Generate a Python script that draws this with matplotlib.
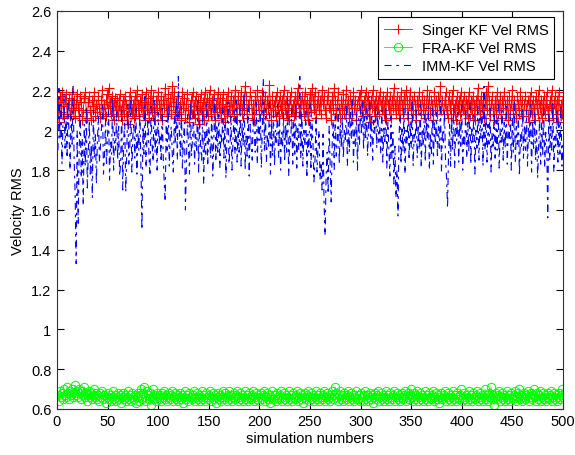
import numpy as np
import matplotlib
matplotlib.use("Agg")
import matplotlib.pyplot as plt

plt.rcParams["font.family"] = ["Liberation Sans", "DejaVu Sans"]
plt.rcParams["lines.scale_dashes"] = False

# RMS velocity error for each of the 500 Monte Carlo runs
singer_kf = [
    2.14, 2.04, 2.17, 2.09, 2.19, 2.12, 2.06, 2.15, 2.18, 2.08, 2.13, 2.16, 2.07, 2.11, 2.19, 2.10, 2.15, 2.06, 2.13, 2.18,
    2.11, 2.07, 2.17, 2.14, 2.05, 2.10, 2.16, 2.19, 2.09, 2.06, 2.14, 2.17, 2.10, 2.05, 2.15, 2.12, 2.19, 2.07, 2.13, 2.09,
    2.17, 2.11, 2.06, 2.15, 2.20, 2.08, 2.13, 2.07, 2.18, 2.11, 2.21, 2.14, 2.08, 2.17, 2.12, 2.05, 2.16, 2.10, 2.15, 2.07,
    2.12, 2.18, 2.10, 2.05, 2.15, 2.08, 2.17, 2.13, 2.07, 2.03, 2.11, 2.19, 2.15, 2.08, 2.13, 2.06, 2.17, 2.10, 2.20, 2.13,
    2.07, 2.15, 2.11, 2.18, 2.08, 2.14, 2.05, 2.19, 2.10, 2.16, 2.06, 2.13, 2.20, 2.09, 2.17, 2.11, 2.05, 2.15, 2.10, 2.19,
    2.13, 2.08, 2.17, 2.05, 2.15, 2.11, 2.21, 2.13, 2.07, 2.18, 2.10, 2.16, 2.08, 2.22, 2.12, 2.19, 2.06, 2.14, 2.09, 2.17,
    2.08, 2.13, 2.05, 2.19, 2.11, 2.16, 2.06, 2.13, 2.18, 2.10, 2.04, 2.15, 2.08, 2.19, 2.12, 2.06, 2.17, 2.10, 2.15, 2.03,
    2.11, 2.18, 2.08, 2.14, 2.05, 2.19, 2.10, 2.16, 2.07, 2.13, 2.20, 2.08, 2.15, 2.11, 2.18, 2.05, 2.13, 2.09, 2.19, 2.11,
    2.16, 2.06, 2.13, 2.18, 2.10, 2.04, 2.15, 2.08, 2.19, 2.12, 2.07, 2.17, 2.10, 2.15, 2.08, 2.20, 2.13, 2.05, 2.17, 2.11,
    2.13, 2.19, 2.08, 2.15, 2.10, 2.22, 2.17, 2.06, 2.13, 2.11, 2.19, 2.15, 2.08, 2.13, 2.05, 2.17, 2.10, 2.20, 2.13, 2.08,
    2.15, 2.10, 2.19, 2.06, 2.13, 2.17, 2.08, 2.15, 2.11, 2.23, 2.13, 2.05, 2.17, 2.10, 2.15, 2.07, 2.19, 2.12, 2.08, 2.17,
    2.10, 2.15, 2.06, 2.20, 2.13, 2.08, 2.17, 2.11, 2.05, 2.15, 2.19, 2.10, 2.13, 2.07, 2.17, 2.09, 2.15, 2.21, 2.11, 2.13,
    2.07, 2.17, 2.13, 2.08, 2.19, 2.11, 2.15, 2.05, 2.13, 2.18, 2.09, 2.21, 2.15, 2.10, 2.19, 2.06, 2.13, 2.17, 2.10, 2.15,
    2.08, 2.20, 2.13, 2.17, 2.10, 2.06, 2.15, 2.19, 2.11, 2.13, 2.05, 2.17, 2.10, 2.21, 2.15, 2.08, 2.13, 2.19, 2.11, 2.06,
    2.15, 2.10, 2.18, 2.08, 2.13, 2.20, 2.11, 2.15, 2.06, 2.17, 2.13, 2.08, 2.19, 2.11, 2.15, 2.05, 2.13, 2.17, 2.10, 2.20,
    2.13, 2.07, 2.15, 2.10, 2.19, 2.08, 2.17, 2.13, 2.04, 2.15, 2.11, 2.20, 2.13, 2.07, 2.17, 2.10, 2.15, 2.08, 2.19, 2.13,
    2.10, 2.17, 2.08, 2.15, 2.05, 2.19, 2.13, 2.10, 2.17, 2.06, 2.15, 2.11, 2.21, 2.13, 2.08, 2.17, 2.10, 2.15, 2.06, 2.19,
    2.13, 2.08, 2.17, 2.11, 2.20, 2.15, 2.06, 2.13, 2.19, 2.10, 2.15, 2.08, 2.17, 2.13, 2.05, 2.15, 2.10, 2.19, 2.13, 2.08,
    2.17, 2.10, 2.15, 2.06, 2.13, 2.20, 2.11, 2.17, 2.08, 2.15, 2.13, 2.05, 2.19, 2.10, 2.15, 2.08, 2.17, 2.13, 2.22, 2.10,
    2.15, 2.08, 2.13, 2.19, 2.10, 2.06, 2.17, 2.13, 2.08, 2.15, 2.20, 2.11, 2.13, 2.05, 2.17, 2.10, 2.15, 2.08, 2.19, 2.13,
    2.10, 2.17, 2.08, 2.15, 2.13, 2.06, 2.19, 2.11, 2.15, 2.08, 2.17, 2.13, 2.05, 2.15, 2.10, 2.21, 2.13, 2.08, 2.17, 2.11,
    2.15, 2.06, 2.13, 2.19, 2.10, 2.22, 2.15, 2.08, 2.13, 2.17, 2.11, 2.05, 2.15, 2.08, 2.19, 2.13, 2.10, 2.17, 2.06, 2.15,
    2.11, 2.19, 2.13, 2.08, 2.15, 2.05, 2.17, 2.10, 2.13, 2.20, 2.08, 2.15, 2.11, 2.06, 2.17, 2.13, 2.08, 2.19, 2.10, 2.15,
    2.07, 2.13, 2.17, 2.10, 2.15, 2.04, 2.13, 2.19, 2.08, 2.15, 2.11, 2.05, 2.17, 2.13, 2.08, 2.20, 2.11, 2.15, 2.06, 2.13,
    2.17, 2.08, 2.13, 2.19, 2.10, 2.05, 2.15, 2.11, 2.20, 2.06, 2.13, 2.17, 2.08, 2.15, 2.04, 2.19, 2.10, 2.13, 2.08, 2.17,
]

fra_kf = [
    0.67, 0.64, 0.69, 0.66, 0.68, 0.65, 0.70, 0.67, 0.66, 0.71, 0.68, 0.65, 0.69, 0.67, 0.70, 0.66, 0.68, 0.72, 0.67, 0.69,
    0.66, 0.70, 0.68, 0.65, 0.69, 0.67, 0.71, 0.66, 0.68, 0.64, 0.67, 0.69, 0.66, 0.68, 0.65, 0.67, 0.70, 0.66, 0.68, 0.65,
    0.67, 0.64, 0.68, 0.66, 0.69, 0.65, 0.67, 0.63, 0.66, 0.68, 0.65, 0.67, 0.64, 0.66, 0.69, 0.65, 0.67, 0.64, 0.66, 0.68,
    0.65, 0.67, 0.63, 0.66, 0.68, 0.65, 0.67, 0.64, 0.66, 0.69, 0.65, 0.67, 0.64, 0.68, 0.66, 0.65, 0.67, 0.63, 0.66, 0.68,
    0.64, 0.67, 0.70, 0.65, 0.68, 0.71, 0.66, 0.64, 0.69, 0.67, 0.65, 0.68, 0.62, 0.66, 0.70, 0.65, 0.67, 0.64, 0.68, 0.66,
    0.65, 0.67, 0.64, 0.68, 0.66, 0.69, 0.65, 0.67, 0.64, 0.66, 0.68, 0.65, 0.67, 0.69, 0.64, 0.66, 0.68, 0.65, 0.67, 0.64,
    0.66, 0.68, 0.65, 0.67, 0.63, 0.66, 0.69, 0.65, 0.67, 0.64, 0.68, 0.66, 0.65, 0.67, 0.69, 0.64, 0.66, 0.68, 0.65, 0.67,
    0.64, 0.66, 0.69, 0.65, 0.67, 0.64, 0.68, 0.66, 0.65, 0.67, 0.69, 0.64, 0.66, 0.68, 0.65, 0.67, 0.63, 0.66, 0.68, 0.65,
    0.67, 0.64, 0.66, 0.69, 0.65, 0.68, 0.66, 0.64, 0.67, 0.69, 0.65, 0.67, 0.64, 0.66, 0.68, 0.65, 0.67, 0.69, 0.64, 0.66,
    0.68, 0.65, 0.67, 0.64, 0.66, 0.69, 0.65, 0.67, 0.64, 0.68, 0.66, 0.65, 0.67, 0.69, 0.64, 0.66, 0.68, 0.65, 0.67, 0.64,
    0.66, 0.68, 0.65, 0.67, 0.69, 0.64, 0.66, 0.68, 0.65, 0.67, 0.63, 0.66, 0.69, 0.65, 0.67, 0.64, 0.68, 0.66, 0.65, 0.67,
    0.69, 0.64, 0.66, 0.68, 0.65, 0.67, 0.64, 0.66, 0.69, 0.65, 0.67, 0.64, 0.68, 0.66, 0.65, 0.67, 0.69, 0.64, 0.66, 0.68,
    0.65, 0.67, 0.63, 0.66, 0.68, 0.65, 0.67, 0.69, 0.64, 0.66, 0.68, 0.65, 0.67, 0.64, 0.66, 0.69, 0.65, 0.67, 0.64, 0.68,
    0.66, 0.65, 0.67, 0.69, 0.64, 0.66, 0.68, 0.65, 0.67, 0.64, 0.66, 0.69, 0.65, 0.67, 0.71, 0.68, 0.66, 0.64, 0.67, 0.69,
    0.65, 0.67, 0.64, 0.68, 0.66, 0.65, 0.67, 0.69, 0.64, 0.66, 0.68, 0.65, 0.67, 0.64, 0.66, 0.69, 0.65, 0.67, 0.64, 0.68,
    0.66, 0.64, 0.67, 0.69, 0.65, 0.67, 0.64, 0.66, 0.68, 0.65, 0.67, 0.63, 0.66, 0.68, 0.65, 0.67, 0.69, 0.64, 0.66, 0.68,
    0.65, 0.67, 0.64, 0.66, 0.69, 0.65, 0.67, 0.64, 0.68, 0.66, 0.65, 0.67, 0.69, 0.64, 0.66, 0.68, 0.65, 0.67, 0.64, 0.66,
    0.68, 0.65, 0.67, 0.69, 0.64, 0.66, 0.68, 0.65, 0.67, 0.70, 0.66, 0.64, 0.68, 0.65, 0.67, 0.69, 0.64, 0.66, 0.68, 0.65,
    0.67, 0.64, 0.66, 0.69, 0.65, 0.67, 0.64, 0.68, 0.66, 0.65, 0.67, 0.69, 0.64, 0.66, 0.68, 0.65, 0.67, 0.63, 0.66, 0.68,
    0.65, 0.67, 0.69, 0.64, 0.66, 0.68, 0.65, 0.67, 0.64, 0.66, 0.69, 0.65, 0.67, 0.64, 0.68, 0.66, 0.65, 0.67, 0.70, 0.64,
    0.66, 0.68, 0.65, 0.67, 0.64, 0.66, 0.69, 0.65, 0.67, 0.64, 0.68, 0.66, 0.65, 0.67, 0.69, 0.64, 0.66, 0.68, 0.65, 0.67,
    0.64, 0.66, 0.70, 0.65, 0.67, 0.64, 0.68, 0.66, 0.71, 0.65, 0.67, 0.62, 0.66, 0.68, 0.65, 0.67, 0.69, 0.64, 0.66, 0.68,
    0.65, 0.67, 0.64, 0.66, 0.69, 0.65, 0.67, 0.64, 0.68, 0.66, 0.65, 0.67, 0.69, 0.64, 0.66, 0.68, 0.70, 0.65, 0.67, 0.64,
    0.66, 0.68, 0.65, 0.67, 0.69, 0.64, 0.66, 0.68, 0.65, 0.67, 0.70, 0.66, 0.64, 0.68, 0.65, 0.67, 0.69, 0.64, 0.66, 0.68,
    0.65, 0.67, 0.64, 0.66, 0.68, 0.65, 0.67, 0.69, 0.64, 0.66, 0.68, 0.65, 0.67, 0.64, 0.66, 0.68, 0.65, 0.67, 0.70, 0.66,
]

imm_kf = [
    1.90, 2.21, 1.95, 2.13, 1.83, 2.04, 2.18, 1.91, 2.07, 1.86, 2.15, 1.98, 1.80, 2.09, 1.93, 2.22, 1.85, 1.68, 1.33, 2.00,
    1.52, 1.91, 2.08, 1.76, 1.96, 1.62, 2.03, 1.82, 2.12, 1.71, 1.88, 2.05, 1.78, 1.93, 1.66, 2.10, 1.86, 1.99, 1.73, 1.95,
    2.07, 1.84, 1.92, 2.01, 2.14, 1.78, 1.87, 2.06, 1.82, 1.97, 2.11, 1.75, 1.94, 1.88, 2.16, 1.80, 1.99, 1.90, 2.09, 1.85,
    2.02, 1.77, 1.84, 2.10, 1.70, 1.95, 2.05, 1.69, 1.89, 2.13, 1.83, 1.92, 2.16, 1.79, 1.97, 2.04, 1.86, 2.11, 1.78, 1.99,
    1.90, 2.08, 1.82, 1.50, 2.02, 1.88, 2.17, 1.81, 1.96, 2.06, 1.86, 1.77, 2.12, 1.93, 1.84, 2.15, 1.89, 2.01, 1.80, 2.09,
    1.92, 1.98, 1.84, 2.11, 1.87, 1.74, 1.64, 2.05, 1.90, 2.13, 1.82, 1.97, 2.02, 1.88, 1.79, 2.07, 1.93, 2.16, 1.85, 2.27,
    1.99, 1.86, 2.12, 1.81, 1.95, 2.04, 1.60, 1.84, 2.08, 1.91, 1.78, 2.14, 1.87, 1.96, 2.10, 1.83, 1.98, 1.90, 2.15, 1.79,
    2.05, 1.92, 1.85, 2.10, 1.73, 1.99, 1.88, 2.13, 1.82, 2.02, 1.94, 1.86, 2.11, 1.77, 1.95, 2.16, 1.84, 2.03, 1.89, 2.08,
    1.81, 1.99, 1.93, 2.12, 1.86, 2.04, 1.76, 1.97, 2.14, 1.83, 1.91, 2.07, 1.80, 1.95, 2.10, 1.88, 2.15, 1.84, 2.00, 1.89,
    2.11, 1.82, 2.04, 1.92, 2.19, 1.80, 1.97, 1.87, 2.13, 1.77, 2.03, 1.94, 1.85, 2.09, 1.99, 1.89, 2.14, 1.83, 2.05, 1.95,
    2.08, 1.81, 2.02, 2.26, 1.90, 2.11, 1.84, 1.98, 1.92, 2.15, 1.78, 2.04, 1.87, 2.10, 1.82, 2.00, 1.94, 2.13, 1.86, 2.06,
    1.80, 1.99, 1.91, 2.09, 1.84, 2.03, 1.89, 2.16, 1.77, 1.97, 1.93, 2.11, 1.83, 2.05, 1.88, 2.14, 1.81, 2.01, 1.90, 2.27,
    1.86, 2.08, 1.82, 2.00, 1.92, 2.11, 1.76, 1.98, 1.89, 2.13, 1.80, 2.04, 1.94, 1.74, 1.85, 2.07, 1.79, 1.91, 2.00, 1.75,
    1.84, 1.70, 1.98, 1.63, 1.47, 1.77, 1.89, 1.68, 2.02, 1.82, 1.64, 1.93, 2.05, 1.80, 2.09, 1.87, 1.94, 2.11, 1.83, 2.03,
    1.91, 2.08, 1.86, 2.00, 1.94, 2.13, 1.82, 2.04, 1.89, 2.10, 1.96, 2.16, 1.84, 2.01, 1.92, 2.09, 1.80, 2.06, 1.93, 2.12,
    1.99, 2.15, 1.90, 2.07, 1.95, 2.11, 1.87, 2.03, 2.17, 1.92, 2.08, 1.85, 2.05, 1.98, 2.13, 1.91, 2.09, 1.94, 2.02, 1.88,
    2.10, 1.84, 2.01, 1.93, 2.12, 1.81, 2.04, 1.90, 1.77, 2.07, 1.86, 1.99, 1.73, 1.92, 1.66, 1.80, 1.57, 1.96, 2.08, 1.83,
    2.02, 1.89, 2.11, 1.78, 2.00, 1.93, 2.09, 1.85, 2.05, 1.91, 2.14, 1.82, 1.98, 1.94, 2.10, 1.86, 2.03, 1.90, 2.13, 1.81,
    2.01, 1.92, 2.08, 1.84, 2.06, 1.95, 2.12, 1.80, 1.99, 1.88, 2.11, 1.83, 2.04, 1.93, 2.09, 1.86, 2.02, 1.91, 2.15, 1.79,
    2.00, 1.94, 2.10, 1.85, 1.76, 1.61, 1.89, 2.03, 1.82, 2.07, 1.90, 2.12, 1.81, 2.01, 1.95, 2.09, 1.84, 2.05, 1.92, 2.13,
    1.80, 1.98, 1.93, 2.11, 1.86, 2.04, 1.89, 2.14, 1.83, 2.02, 1.94, 2.09, 1.78, 2.00, 1.91, 2.12, 1.85, 2.06, 1.96, 2.10,
    1.82, 2.22, 1.90, 2.08, 1.84, 2.03, 1.93, 2.11, 1.79, 1.99, 1.92, 2.09, 1.86, 2.05, 1.90, 2.13, 1.81, 2.01, 1.94, 2.10,
    1.85, 2.04, 1.91, 2.12, 1.83, 2.00, 1.95, 2.09, 1.80, 2.06, 1.89, 2.14, 1.84, 2.02, 1.93, 2.08, 1.77, 1.98, 1.92, 2.11,
    1.86, 2.03, 1.90, 2.10, 1.82, 2.01, 1.94, 2.13, 1.79, 2.05, 1.91, 2.09, 1.85, 2.00, 1.76, 1.92, 2.07, 1.83, 2.04, 1.88,
    2.11, 1.81, 1.99, 1.93, 1.56, 2.08, 1.85, 2.02, 1.90, 2.14, 1.79, 1.97, 1.92, 2.10, 1.84, 2.05, 1.88, 2.12, 1.82, 1.95,
]

labels = ["Singer KF Vel RMS", "FRA-KF Vel RMS", "IMM-KF Vel RMS"]
runs = np.arange(1, len(singer_kf) + 1)

fig = plt.figure(figsize=(5.75, 4.56), dpi=100)
ax = fig.add_axes([0.099, 0.101, 0.880, 0.873])

ax.plot(runs, singer_kf, "-+", color="red", lw=0.6, ms=7.5, mew=0.8, label=labels[0])
ax.plot(runs, fra_kf, "-o", color="#00ff00", lw=0.6, ms=6, mew=0.7, mfc="none", label=labels[1])
# dash-dot in points, not scaled by width
ax.plot(runs, imm_kf, color="blue", lw=0.8, dashes=(5, 3.5, 2, 3.5), label=labels[2])

ax.set_xlim(0, 500)
ax.set_ylim(0.6, 2.6)
ax.set_xticks(np.arange(0, 501, 50))
ax.set_yticks(np.arange(0.6, 2.61, 0.2))
ax.set_yticklabels(["0.6", "0.8", "1", "1.2", "1.4", "1.6", "1.8", "2", "2.2", "2.4", "2.6"])
ax.tick_params(direction="in", top=True, right=True, length=5, labelsize=10.5, pad=4)
for s in ax.spines.values():
    s.set_linewidth(0.8)
    s.set_color("#333333")

ax.set_xlabel("simulation numbers", fontsize=10.5, labelpad=2)
ax.set_ylabel("Velocity RMS", fontsize=10.5, labelpad=4)

leg = ax.legend(loc="upper right", bbox_to_anchor=(0.983, 0.985), fontsize=10.5, fancybox=False,
                edgecolor="black", framealpha=1, borderaxespad=0, handlelength=1.9,
                handletextpad=0.7, labelspacing=0.3, borderpad=0.4)
leg.get_frame().set_linewidth(0.8)

fig.savefig("out.png", dpi=100)
